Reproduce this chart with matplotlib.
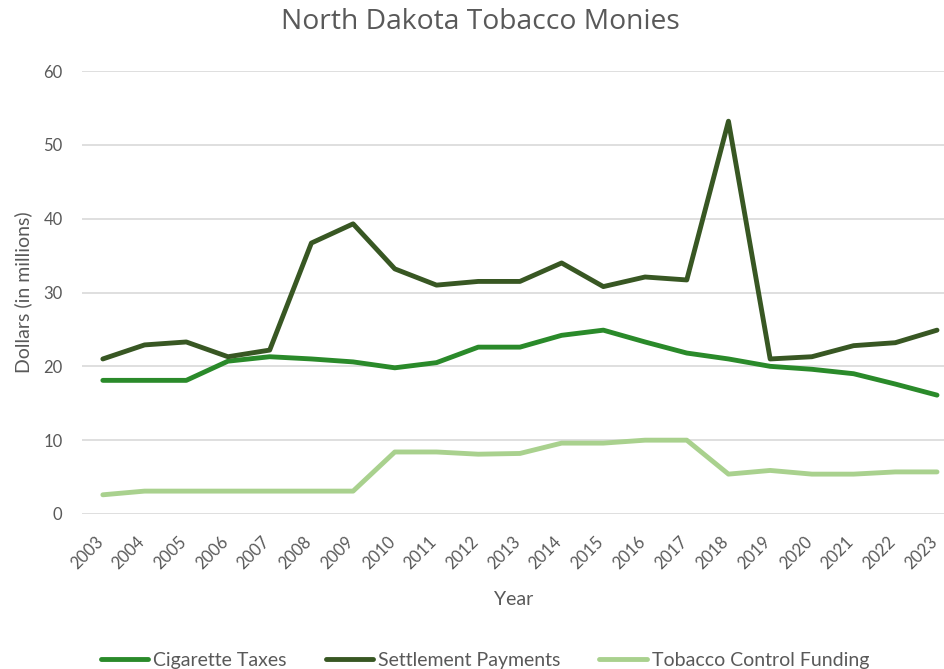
import matplotlib

matplotlib.use("Agg")

import matplotlib.pyplot as plt
from matplotlib.transforms import ScaledTranslation

years = [str(y) for y in range(2003, 2024)]
cigarette_taxes = [18.1, 18.1, 18.1, 20.7, 21.3, 21.0, 20.6, 19.8, 20.5, 22.6,
                   22.6, 24.2, 24.9, 23.3, 21.8, 21.0, 20.0, 19.6, 19.0, 17.6, 16.1]
settlement_payments = [21.0, 22.9, 23.3, 21.3, 22.2, 36.7, 39.3, 33.2, 31.0, 31.5,
                       31.5, 34.0, 30.8, 32.1, 31.7, 53.2, 21.0, 21.3, 22.8, 23.2, 24.9]
control_funding = [2.6, 3.1, 3.1, 3.1, 3.1, 3.1, 3.1, 8.4, 8.4, 8.1,
                   8.2, 9.6, 9.6, 10.0, 10.0, 5.4, 5.9, 5.4, 5.4, 5.7, 5.7]

TEXT = "#595959"
plt.rcParams["font.family"] = ["Lato", "DejaVu Sans"]

fig = plt.figure(figsize=(9.45, 6.69), dpi=100)
ax = fig.add_axes([82 / 945, 1 - 514 / 669, 1 - 82 / 945, (514 - 71) / 669])

x = range(len(years))
ax.plot(x, cigarette_taxes, color="#2a8a2a", lw=3.5, label="Cigarette Taxes",
        solid_capstyle="round")
ax.plot(x, settlement_payments, color="#385723", lw=3.5, label="Settlement Payments",
        solid_capstyle="round")
ax.plot(x, control_funding, color="#a9d18e", lw=3.5, label="Tobacco Control Funding",
        solid_capstyle="round")

ax.set_xlim(-0.5, 20 + 8 / 41.7)
ax.set_ylim(0, 60)
ax.set_yticks(range(0, 61, 10))
ax.set_xticks(list(x), years, rotation=45, ha="right", rotation_mode="anchor")
ax.tick_params(length=0, labelsize=12, labelcolor=TEXT)
ax.tick_params(axis="x", pad=14)
ax.tick_params(axis="y", pad=14)
# nudge the slanted year labels so their ends sit just right of each point
shift = ScaledTranslation(-8 / 100, 0, fig.dpi_scale_trans)
for label in ax.get_xticklabels():
    label.set_transform(label.get_transform() + shift)
ax.grid(axis="y", color="#d9d9d9", lw=1.2)
ax.set_axisbelow(True)
for spine in ax.spines.values():
    spine.set_visible(False)

fig.text(480 / 945, 1 - 22 / 669, "North Dakota Tobacco Monies", fontsize=20.3,
         color=TEXT, ha="center", va="center", family=["Open Sans", "DejaVu Sans"])
ax.set_ylabel("Dollars (in millions)", fontsize=14, color=TEXT, labelpad=8)
ax.set_xlabel("Year", fontsize=14, color=TEXT, labelpad=14)

fig.legend(loc="lower center", bbox_to_anchor=(485 / 945, -0.026), ncol=3, frameon=False,
           fontsize=14, labelcolor=TEXT, handlelength=2.45, handletextpad=0.25,
           columnspacing=2.0)

fig.savefig("out.png", dpi=100)
